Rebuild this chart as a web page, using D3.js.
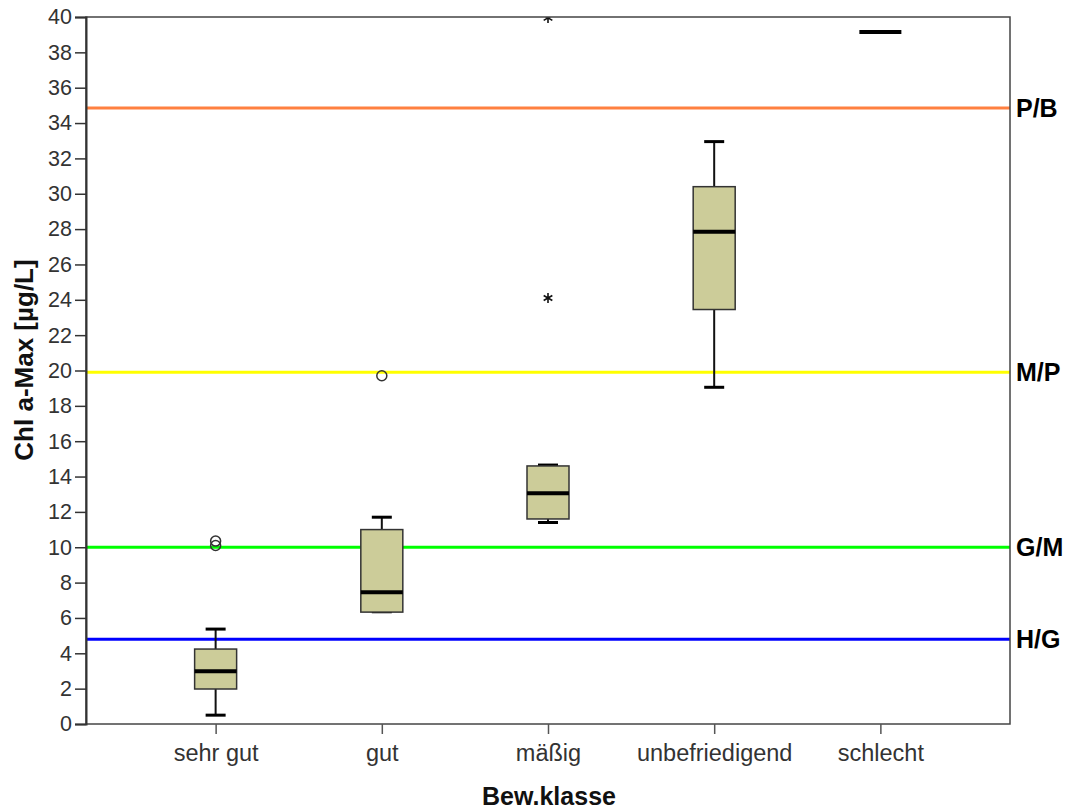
<!DOCTYPE html>
<html><head><meta charset="utf-8">
<script src="https://cdn.jsdelivr.net/npm/d3@7"></script>
<style>body{margin:0;background:#fff}svg{display:block}text{font-family:"Liberation Sans",Arial,sans-serif}</style>
</head><body>
<svg id="c" width="1068" height="810"></svg>
<script>
const categories = ["sehr gut","gut","mäßig","unbefriedigend","schlecht"];
const whiskerLow  = [0.5, 6.35, 11.4, 19.05, 39.15];
const q1          = [1.98, 6.33, 11.6, 23.45, 39.15];
const median      = [2.99, 7.45, 13.05, 27.85, 39.15];
const q3          = [4.24, 11.0, 14.6, 30.4, 39.15];
const whiskerHigh = [5.37, 11.7, 14.65, 32.95, 39.15];
const outlierCat  = ["sehr gut","sehr gut","gut"];
const outlierVal  = [10.35, 10.1, 19.7];
const extremeCat  = ["mäßig","mäßig"];
const extremeVal  = [24.1, 39.95];
const refLabels   = ["P/B","M/P","G/M","H/G"];
const refValues   = [34.85, 19.9, 10.0, 4.8];
const refColors   = ["#ff8040","#ffff00","#00ff00","#0000ff"];
const yTicks = d3.range(0, 41, 2);

const svg = d3.select("#c");
const L = 86, R = 1010, T = 17, B = 724;
const x = d3.scalePoint().domain(categories).range([L, R]).padding(0.78);
const y = d3.scaleLinear().domain([0, 40]).range([B, T]);
const bw = 42;

svg.append("clipPath").attr("id", "clip").append("rect")
  .attr("x", L).attr("y", T).attr("width", R - L).attr("height", B - T);

// reference lines
refValues.forEach((v, i) => {
  svg.append("line").attr("x1", L).attr("x2", R).attr("y1", y(v)).attr("y2", y(v))
    .attr("stroke", refColors[i]).attr("stroke-width", 3);
  svg.append("text").attr("x", R + 6).attr("y", y(v)).attr("dy", "0.36em")
    .attr("font-size", 25).attr("font-weight", "bold").attr("fill", "#000").text(refLabels[i]);
});

// boxes
categories.forEach((c, i) => {
  const cx = x(c);
  const g = svg.append("g");
  const single = q1[i] === q3[i];
  if (!single) {
    g.append("line").attr("x1", cx).attr("x2", cx).attr("y1", y(whiskerHigh[i])).attr("y2", y(q3[i])).attr("stroke", "#111").attr("stroke-width", 2);
    g.append("line").attr("x1", cx).attr("x2", cx).attr("y1", y(q1[i])).attr("y2", y(whiskerLow[i])).attr("stroke", "#111").attr("stroke-width", 2);
    g.append("line").attr("x1", cx - 10).attr("x2", cx + 10).attr("y1", y(whiskerHigh[i])).attr("y2", y(whiskerHigh[i])).attr("stroke", "#000").attr("stroke-width", 3);
    g.append("line").attr("x1", cx - 10).attr("x2", cx + 10).attr("y1", y(whiskerLow[i])).attr("y2", y(whiskerLow[i])).attr("stroke", "#000").attr("stroke-width", 3);
    g.append("rect").attr("x", cx - bw / 2).attr("y", y(q3[i])).attr("width", bw).attr("height", y(q1[i]) - y(q3[i]))
      .attr("fill", "#cccc99").attr("stroke", "#333").attr("stroke-width", 1.5);
  }
  g.append("line").attr("x1", cx - bw / 2).attr("x2", cx + bw / 2).attr("y1", y(median[i])).attr("y2", y(median[i]))
    .attr("stroke", "#000").attr("stroke-width", 4);
});

// outliers
outlierVal.forEach((v, i) => {
  svg.append("circle").attr("cx", x(outlierCat[i])).attr("cy", y(v)).attr("r", 5)
    .attr("fill", "none").attr("stroke", "#333").attr("stroke-width", 1.5);
});
const star = d3.symbol().type(d3.symbolAsterisk).size(70);
const sg = svg.append("g").attr("clip-path", "url(#clip)");
extremeVal.forEach((v, i) => {
  sg.append("path")
    .attr("transform", `translate(${x(extremeCat[i])},${y(v)})`)
    .attr("d", star()).attr("fill", "none").attr("stroke", "#111").attr("stroke-width", 1.6);
});

// frame
svg.append("rect").attr("x", L).attr("y", T).attr("width", R - L).attr("height", B - T)
  .attr("fill", "none").attr("stroke", "#444").attr("stroke-width", 1.5);

// axes
const ya = svg.append("g").attr("transform", `translate(${L},0)`)
  .call(d3.axisLeft(y).tickValues(yTicks).tickSize(11).tickPadding(3).tickFormat(d3.format("d")));
ya.select(".domain").attr("stroke", "#333").attr("stroke-width", 2);
ya.selectAll(".tick line").attr("stroke", "#333").attr("stroke-width", 1.5);
ya.selectAll("text").attr("font-size", 21.5).attr("fill", "#333").attr("font-family", '"Liberation Sans",Arial,sans-serif');

const xa = svg.append("g").attr("transform", `translate(0,${B})`)
  .call(d3.axisBottom(x).tickSize(10).tickPadding(10));
xa.select(".domain").remove();
xa.selectAll(".tick line").attr("stroke", "#555").attr("stroke-width", 1.5);
xa.selectAll("text").attr("font-size", 23.5).attr("fill", "#333").attr("font-family", '"Liberation Sans",Arial,sans-serif');

svg.append("text").attr("transform", `translate(33,360) rotate(-90)`)
  .attr("text-anchor", "middle").attr("font-size", 26).attr("font-weight", "bold").attr("fill", "#111")
  .text("Chl a-Max [µg/L]");
svg.append("text").attr("x", 549).attr("y", 805).attr("text-anchor", "middle")
  .attr("font-size", 25).attr("font-weight", "bold").attr("fill", "#111").text("Bew.klasse");
</script>
</body></html>
